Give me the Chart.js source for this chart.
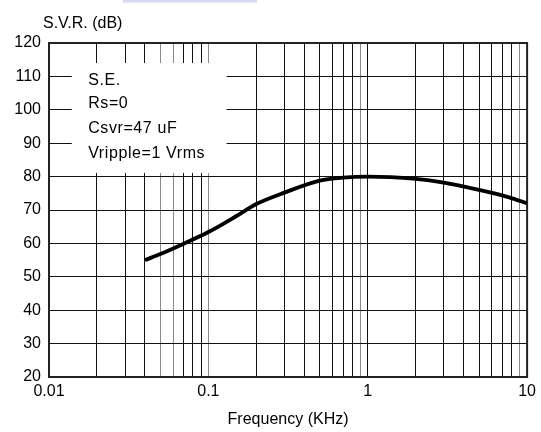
<!DOCTYPE html>
<html lang="en">
<head>
  <meta charset="UTF-8">
  <title>S.V.R. vs Frequency</title>
  <script src="https://cdn.jsdelivr.net/npm/chart.js"></script>
  <style>
    html,body{width:541px;height:432px;margin:0;padding:0;overflow:hidden;background:#fff;font-family:'Liberation Sans',Arial,sans-serif}
    #strip{position:absolute;left:123px;top:0;width:134px;height:3px;background:linear-gradient(#c9d3ec,#e6ebf7)}
    canvas{position:absolute;left:0;top:0}
  </style>
</head>
<body>
  <div id="strip"></div>
  <canvas id="svr" width="541" height="432"></canvas>

<script>
// curve: frequency in KHz, rejection in dB
const freqKHz = [0.04, 0.05, 0.07, 0.1, 0.15, 0.2, 0.3, 0.5, 0.7, 1, 2, 3, 5, 7.7, 10];
const svrDb   = [55, 56.8, 59.9, 63.4, 68.2, 71.8, 75.2, 78.8, 79.7, 80, 79.3, 78.2, 76, 73.8, 72];

const yTicks = [20, 30, 40, 50, 60, 70, 80, 90, 100, 110, 120];
const decades = [0.01, 0.1, 1];
const decadeLabels = ['0.01', '0.1', '1', '10'];
const noteLines = ['S.E.', 'Rs=0', 'Csvr=47 uF', 'Vripple=1 Vrms'];

// grid lines at 1..9 of every decade, plus the end value
const xGrid = [];
decades.forEach(d => { for (let m = 1; m <= 9; m++) xGrid.push(+(d * m).toPrecision(3)); });
xGrid.push(10);
// lines that came out lighter in the printed chart
const lightLines = [0.05, 0.06, 0.1, 0.9, 9];

const FONT = "'Liberation Sans', Arial, sans-serif";

// frame, axis caption and the white note box
const extras = {
  id: 'extras',
  beforeDatasetsDraw(chart) {
    const {ctx, chartArea: a, scales: {x, y}} = chart;
    ctx.save();
    // note box (data coords)
    const bx0 = x.getPixelForValue(0.0139), bx1 = x.getPixelForValue(0.13);
    const by0 = y.getPixelForValue(114), by1 = y.getPixelForValue(81.1);
    ctx.fillStyle = '#fff';
    ctx.fillRect(bx0, by0, bx1 - bx0, by1 - by0);
    ctx.fillStyle = '#000';
    ctx.font = '16px ' + FONT;
    ctx.letterSpacing = '0.6px';
    ctx.textBaseline = 'middle';
    ctx.textAlign = 'left';
    const tx = x.getPixelForValue(0.0176);
    const rows = [108.8, 102, 94.5, 86.8];
    noteLines.forEach((t, i) => ctx.fillText(t, tx, y.getPixelForValue(rows[i])));
    // plot frame
    ctx.letterSpacing = '0px';
    ctx.strokeStyle = '#222';
    ctx.lineWidth = 2;
    ctx.strokeRect(a.left, a.top, a.right - a.left, a.bottom - a.top);
    // y caption
    ctx.font = '16px ' + FONT;
    ctx.fillText('S.V.R. (dB)', a.left - 6, a.top - 19);
    ctx.restore();
  }
};

new Chart(document.getElementById('svr'), {
  type: 'line',
  data: {
    datasets: [{
      data: freqKHz.map((f, i) => ({x: f, y: svrDb[i]})),
      borderColor: '#000',
      borderWidth: 3.8,
      pointRadius: 0,
      cubicInterpolationMode: 'monotone',
      fill: false
    }]
  },
  options: {
    responsive: false,
    animation: false,
    layout: {padding: {top: 43, right: 13, left: 0, bottom: 0}},
    plugins: {legend: {display: false}, tooltip: {enabled: false}},
    scales: {
      x: {
        type: 'logarithmic',
        min: 0.01,
        max: 10,
        afterBuildTicks: s => { s.ticks = xGrid.map(v => ({value: v})); },
        afterFit: s => { s.height = 55; },
        grid: {
          drawTicks: false,
          lineWidth: 1,
          color: c => lightLines.includes(c.tick && c.tick.value) ? '#8a8a8a' : '#111'
        },
        border: {display: false},
        ticks: {
          autoSkip: false,
          maxRotation: 0,
          padding: 5,
          color: '#000',
          font: {family: FONT, size: 16},
          callback: v => {
            const i = decadeLabels.indexOf(String(v));
            return i >= 0 ? decadeLabels[i] : '';
          }
        },
        title: {
          display: true,
          text: 'Frequency (KHz)',
          color: '#000',
          font: {family: FONT, size: 16},
          padding: {top: 0, bottom: 3}
        }
      },
      y: {
        min: 20,
        max: 120,
        afterBuildTicks: s => { s.ticks = yTicks.map(v => ({value: v})); },
        afterFit: s => { s.width = 49; },
        grid: {drawTicks: false, lineWidth: 1, color: '#111'},
        border: {display: false},
        ticks: {
          padding: 8,
          color: '#000',
          font: {family: FONT, size: 16}
        }
      }
    }
  },
  plugins: [extras]
});
</script>
</body>
</html>
